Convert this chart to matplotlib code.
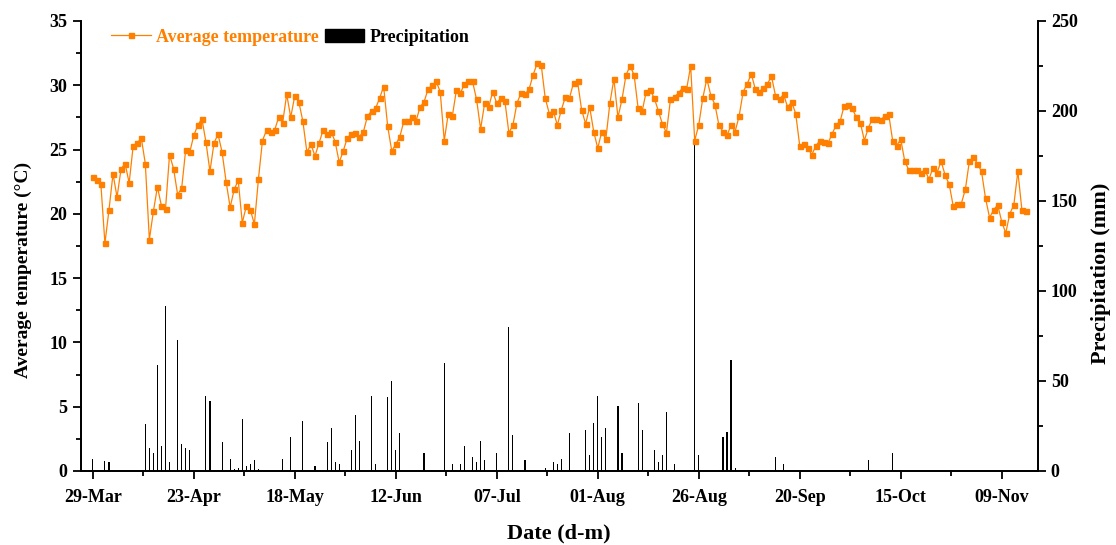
import numpy as np
import pandas as pd
import matplotlib
matplotlib.use("Agg")
import matplotlib.pyplot as plt
import matplotlib.dates as mdates
from matplotlib.lines import Line2D
from matplotlib.patches import Patch
from matplotlib.ticker import MultipleLocator

plt.rcParams['font.family'] = ['Liberation Serif', 'DejaVu Serif']
plt.rcParams['font.weight'] = 'bold'

#   ///////   data   ///////
start_date = '2023-03-29'

# daily mean temperature (°C), 29-Mar .. 15-Nov
temperature = [
    22.9, 22.6, 22.3, 17.7, 20.3, 23.1, 21.3, 23.5, 23.9, 22.4,
    25.3, 25.5, 25.9, 23.9, 18.0, 20.2, 22.1, 20.6, 20.4, 24.6,
    23.5, 21.5, 22.0, 25.0, 24.8, 26.1, 26.9, 27.4, 25.6, 23.3,
    25.5, 26.2, 24.8, 22.5, 20.5, 21.9, 22.6, 19.3, 20.6, 20.3,
    19.2, 22.7, 25.7, 26.5, 26.4, 26.5, 27.5, 27.1, 29.3, 27.5,
    29.2, 28.7, 27.2, 24.8, 25.4, 24.5, 25.5, 26.5, 26.2, 26.4,
    25.6, 24.0, 24.9, 25.9, 26.2, 26.3, 26.0, 26.4, 27.6, 28.0,
    28.2, 29.0, 29.9, 26.8, 24.9, 25.4, 26.0, 27.2, 27.2, 27.5,
    27.2, 28.3, 28.7, 29.7, 30.0, 30.3, 29.5, 25.7, 27.8, 27.6,
    29.6, 29.4, 30.1, 30.3, 30.3, 28.9, 26.6, 28.6, 28.3, 29.5,
    28.6, 29.0, 28.8, 26.3, 26.9, 28.6, 29.4, 29.3, 29.7, 30.8,
    31.7, 31.6, 29.0, 27.8, 28.0, 26.9, 28.1, 29.1, 29.0, 30.2,
    30.3, 28.1, 27.0, 28.3, 26.4, 25.1, 26.4, 25.8, 28.6, 30.5,
    27.5, 28.9, 30.8, 31.5, 30.8, 28.2, 28.0, 29.5, 29.6, 29.0,
    28.0, 27.0, 26.3, 28.9, 29.1, 29.4, 29.8, 29.7, 31.5, 25.7,
    26.9, 29.0, 30.5, 29.2, 28.5, 26.9, 26.4, 26.1, 26.9, 26.4,
    27.6, 29.5, 30.1, 30.9, 29.7, 29.5, 29.8, 30.1, 30.7, 29.2,
    28.9, 29.3, 28.3, 28.7, 27.8, 25.3, 25.4, 25.1, 24.6, 25.3,
    25.7, 25.6, 25.5, 26.2, 26.9, 27.2, 28.4, 28.5, 28.2, 27.5,
    27.1, 25.7, 26.7, 27.4, 27.4, 27.3, 27.6, 27.8, 25.7, 25.3,
    25.8, 24.1, 23.4, 23.4, 23.4, 23.2, 23.4, 22.7, 23.6, 23.2,
    24.1, 23.0, 22.3, 20.6, 20.8, 20.8, 21.9, 24.1, 24.4, 23.9,
    23.3, 21.2, 19.7, 20.3, 20.7, 19.4, 18.5, 20.0, 20.7, 23.3,
    20.3, 20.2,
]

# rainy days (days after 29-Mar) and amount (mm)
rain_day = [
    0, 3, 4, 13, 14, 15, 16, 17, 18, 19, 21, 22, 23, 24, 28, 29, 32, 34, 35, 36,
    37, 38, 39, 40, 41, 47, 49, 52, 55, 58, 59, 60, 61, 63, 64, 65, 66, 69, 70, 73,
    74, 75, 76, 77, 82, 84, 87, 89, 91, 92, 94, 95, 96, 97, 100, 103, 104, 106, 107, 112,
    113, 114, 115, 116, 118, 122, 123, 124, 125, 126, 127, 130, 131, 135, 136, 139, 140, 141, 142, 143,
    144, 147, 149, 150, 153, 155, 156, 157, 158, 159, 160, 169, 171, 192, 193, 198,
]
rain_mm = [
    6.7, 5.7, 4.8, 25.9, 12.8, 9.8, 58.9, 13.9, 91.9, 5.0, 72.8, 14.8, 12.8, 11.7, 41.9, 38.9, 15.9, 6.7, 0.9, 1.7,
    28.7, 2.6, 3.9, 5.9, 0.9, 6.7, 18.9, 27.8, 2.8, 15.9, 23.9, 4.8, 3.9, 0.5, 11.9, 30.9, 16.9, 41.9, 3.9, 40.9,
    50.0, 11.9, 20.9, 0.5, 9.8, 0.5, 59.8, 3.9, 3.9, 14.1, 8.0, 4.8, 16.9, 5.9, 9.8, 79.8, 20.0, 0.5, 5.9, 1.9,
    0.5, 4.8, 3.9, 6.9, 20.9, 22.8, 8.9, 26.7, 41.9, 18.9, 23.9, 35.9, 9.8, 37.8, 22.8, 11.9, 4.8, 8.9, 32.8, 0.5,
    3.9, 0.5, 186.0, 8.9, 0.5, 0.5, 18.9, 21.7, 61.9, 1.9, 0.5, 8.0, 3.9, 5.9, 0.5, 10.0,
]
#   ///////     ///////

t0 = pd.Timestamp(start_date)
dates = pd.date_range(t0, periods=len(temperature), freq='D')
rain_dates = t0 + pd.to_timedelta(rain_day, unit='D')

orange = '#FF8000'

fig = plt.figure(figsize=(11.16, 5.45), dpi=100)
ax = fig.add_axes([0.0723, 0.1358, 0.8575, 0.8257])
ax2 = ax.twinx()

ax2.bar(rain_dates, rain_mm, width=0.28, color='black', linewidth=0)
ax.plot(dates, temperature, color=orange, lw=0.9, marker='s', ms=3.6,
        mec=orange, mfc=orange)

ax.set_zorder(ax2.get_zorder() + 1)
ax.patch.set_visible(False)

# x axis: labels every 25 days, minor tick half way
major = pd.date_range(t0, periods=10, freq='25D')
minor = major[:-1] + pd.Timedelta(hours=300)
ax.set_xticks(major)
ax.set_xticks(minor, minor=True)
ax.xaxis.set_major_formatter(mdates.DateFormatter('%d-%b'))
ax.set_xlim(t0 - pd.Timedelta(days=3), t0 + pd.Timedelta(days=233.9))

ax.set_ylim(0, 35)
ax.yaxis.set_major_locator(MultipleLocator(5))
ax.yaxis.set_minor_locator(MultipleLocator(2.5))
ax2.set_ylim(0, 250)
ax2.yaxis.set_major_locator(MultipleLocator(50))
ax2.yaxis.set_minor_locator(MultipleLocator(25))

for a in (ax, ax2):
    a.spines['top'].set_visible(False)
    for s in a.spines.values():
        s.set_linewidth(1.3)
    a.tick_params(which='major', direction='out', length=6, width=1.3, labelsize=13)
    a.tick_params(which='minor', direction='out', length=3.5, width=1.3)
ax.tick_params(axis='x', which='major', pad=7)

ax.set_ylabel('Average temperature (°C)', fontsize=14, fontweight='bold')
ax2.set_ylabel('Precipitation (mm)', fontsize=16, fontweight='bold')
ax.set_xlabel('Date (d-m)', fontsize=16, fontweight='bold')
ax.yaxis.set_label_coords(-0.051, 0.447)
ax2.yaxis.set_label_coords(1.056, 0.44)
ax.xaxis.set_label_coords(0.5, -0.116)

handles = [
    Line2D([], [], color=orange, lw=0.9, marker='s', ms=3.6),
    Patch(facecolor='black', edgecolor='black'),
]
leg = ax.legend(handles, ['Average temperature', 'Precipitation'], ncol=2,
                loc='center left', bbox_to_anchor=(0.032, 0.964), frameon=False,
                fontsize=13, handlelength=2.2, handletextpad=0.3,
                columnspacing=0.3, borderpad=0, borderaxespad=0)
leg.get_texts()[0].set_color(orange)

fig.savefig('out.png', dpi=100)
